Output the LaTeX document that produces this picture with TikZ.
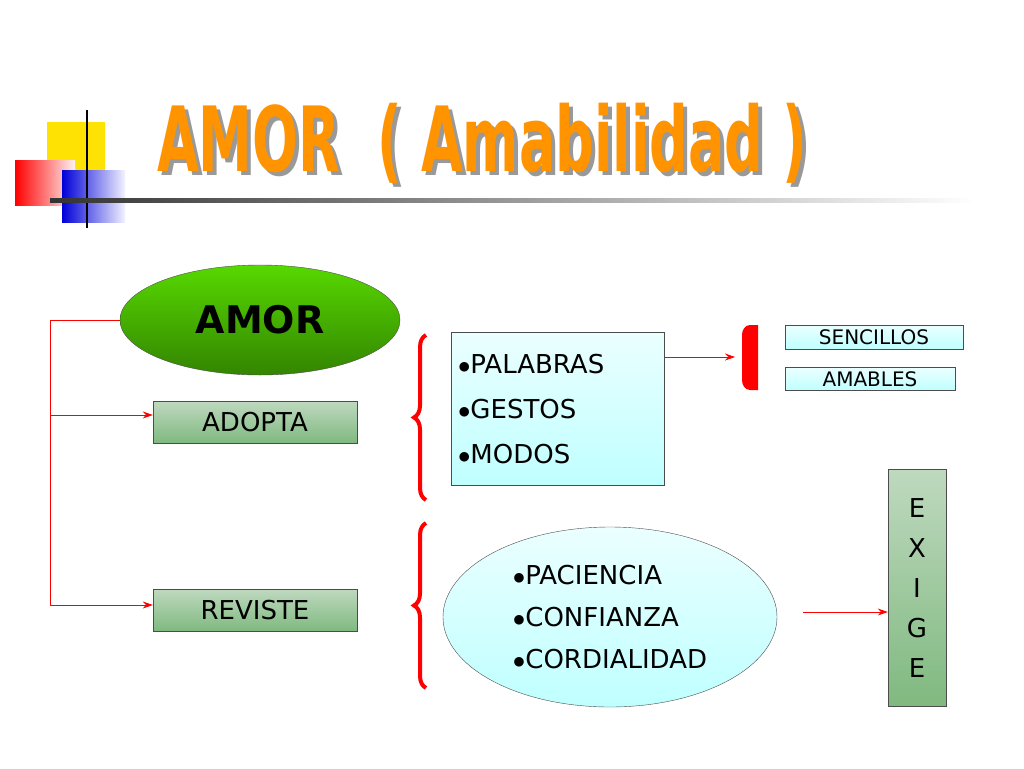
\documentclass[tikz,border=0pt]{standalone}
\usepackage{fontspec}
\setmainfont{DejaVu Sans}
\newfontfamily\titlefont{DejaVu Sans Condensed}
\usetikzlibrary{shapes.geometric,decorations.pathreplacing,arrows.meta}

\newcommand{\titulo}{\titlefont\bfseries\fontsize{60}{60}\selectfont\scalebox{1.0}[1.5]{AMOR\ \ ( Amabilidad )}}

\begin{document}
\begin{tikzpicture}[
        x=1pt, y=-1pt,
        > = {Stealth[length=10pt, width=7pt]},
        greenbox/.style={ draw = black!70, top color = green!12!white!85!black, bottom color = green!45!black!50, inner sep = 0pt },
        cyanbox/.style={ draw = black!70, top color = cyan!8, bottom color = cyan!25, inner sep = 0pt },
        redline/.style={ red, line width = .8pt },
        bracered/.style={ red, line width = 4pt, decorate, decoration={ brace, amplitude = 12pt, mirror } }
    ]
    \useasboundingbox (0,0) rectangle (1024,768);

    % logo
    \fill[yellow!85!orange] (47,122) rectangle (105,180);
    \fill[left color = red, right color = red!5] (15,160) rectangle (75,205);
    \fill[left color = blue!85!black, right color = blue!5] (62,170) rectangle (125,222);
    \draw[line width = 2pt] (87,110) -- (87,228);
    \shade[left color = black!80, right color = white] (50,198) rectangle (975,202);

    % title
    \node (sombra) [black!40] at (486,147) {\titulo};
    \node (title) [orange!85!yellow] at (482,143) {\titulo};

    % nodes
    \node (amor) [ellipse, draw = black!70, top color = green!60!yellow!85!black, bottom color = green!40!black!80!yellow, minimum width = 280pt, minimum height = 110pt]
        at (260,320) {\bfseries\fontsize{38}{38}\selectfont AMOR};
    \node (adopta) [greenbox, minimum width = 204pt, minimum height = 42pt] at (255,422) {\fontsize{26}{26}\selectfont ADOPTA};
    \node (reviste) [greenbox, minimum width = 204pt, minimum height = 42pt] at (255,610) {\fontsize{26}{26}\selectfont REVISTE};
    \node (lista) [cyanbox, minimum width = 213pt, minimum height = 153pt, align = left, text width = 200pt, font = \fontsize{26}{45}\selectfont] at (558,409)
        {$\bullet$PALABRAS\\$\bullet$GESTOS\\$\bullet$MODOS};
    \node (virtudes) [ellipse, draw = black!70, top color = cyan!8, bottom color = cyan!25, minimum width = 334pt, minimum height = 180pt, align = left, font = \fontsize{26}{42}\selectfont] at (610,617)
        {$\bullet$PACIENCIA\\$\bullet$CONFIANZA\\$\bullet$CORDIALIDAD};
    \node (sencillos) [cyanbox, minimum width = 178pt, minimum height = 24pt] at (874,337) {\fontsize{20}{20}\selectfont SENCILLOS};
    \node (amables) [cyanbox, minimum width = 170pt, minimum height = 23pt] at (870,379) {\fontsize{20}{20}\selectfont AMABLES};
    \node (exige) [greenbox, minimum width = 58pt, minimum height = 237pt, align = center, font = \fontsize{26}{40}\selectfont] at (917,588)
        {E\\X\\I\\G\\E};

    % connectors
    \coordinate (bend) at (50,320);
    \coordinate (ramal) at (50,415);
    \coordinate (pie) at (50,605);
    \coordinate (flecha) at (803,612);
    \draw [redline] (amor.west) -- (bend) -- (pie);
    \draw [redline, ->] (ramal) -- (adopta.west |- ramal);
    \draw [redline, ->] (pie) -- (reviste.west |- pie);
    \draw [redline, ->] (lista.east |- 0,357) -- (735,357);
    \draw [redline, ->] (flecha) -- (exige.west |- flecha);

    % braces
    \draw [bracered] (426,335) -- (426,500);
    \draw [bracered] (426,523) -- (426,688);
    \fill [red] (758,325) -- (750,325) to[out=180, in=90] (742,335) -- (742,380) to[out=-90, in=180] (750,390) -- (758,390) -- cycle;
\end{tikzpicture}
\end{document}
